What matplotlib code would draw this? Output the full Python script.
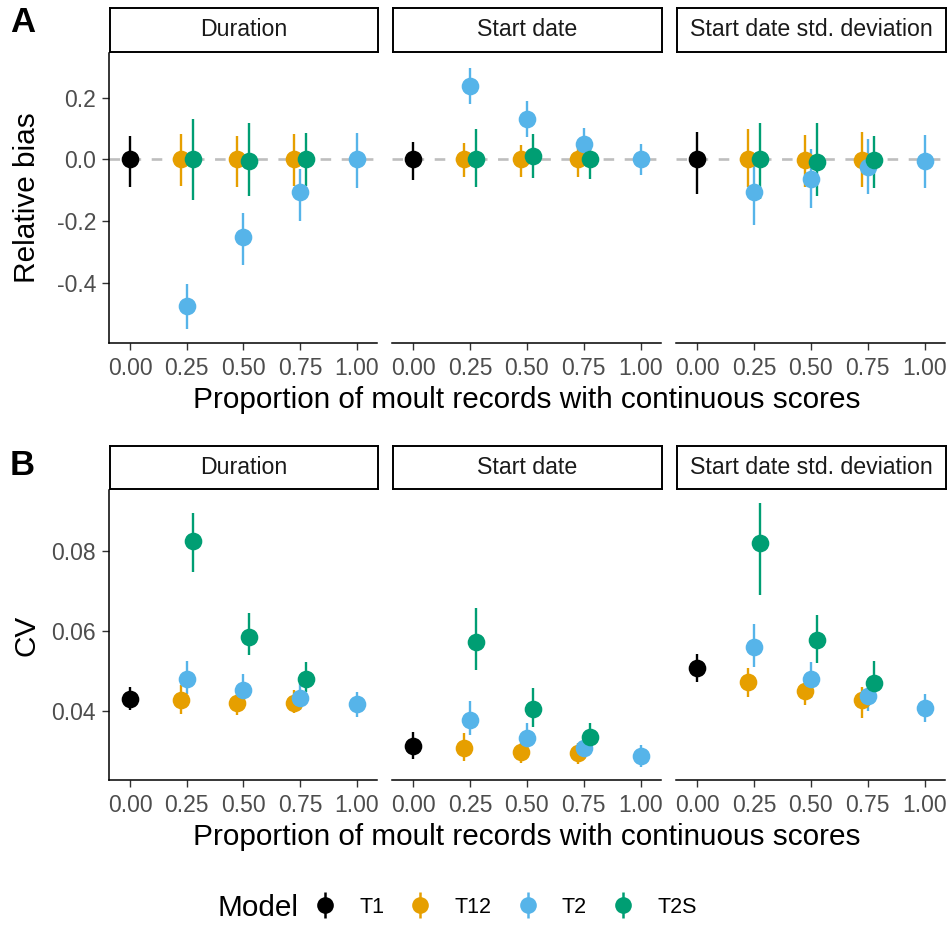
import matplotlib
matplotlib.use("Agg")
import matplotlib.pyplot as plt
from matplotlib.lines import Line2D
from matplotlib.legend_handler import HandlerTuple
import numpy as np

plt.rcParams["font.family"] = ["Liberation Sans", "DejaVu Sans"]

# ---- data -------------------------------------------------------------
facets = ["Duration", "Start date", "Start date std. deviation"]
models = ["T1", "T12", "T2", "T2S"]
colors = {"T1": "#000000", "T12": "#E69F00", "T2": "#56B4E9", "T2S": "#009E73"}
x_ticks = [0.00, 0.25, 0.50, 0.75, 1.00]
x_ticklabels = ["0.00", "0.25", "0.50", "0.75", "1.00"]

# one row per model / proportion combination
model = ["T1", "T12", "T12", "T12", "T2", "T2", "T2", "T2", "T2S", "T2S", "T2S"]
prop = [0.00, 0.25, 0.50, 0.75, 0.25, 0.50, 0.75, 1.00, 0.25, 0.50, 0.75]

# relative bias
bias_duration = [0.0, 0.0, 0.0, 0.0, -0.475, -0.252, -0.105, 0.0, 0.0, -0.005, 0.003]
bias_duration_lo = [-0.089, -0.086, -0.089, -0.086, -0.55, -0.341, -0.198, -0.091, -0.132, -0.118, -0.086]
bias_duration_hi = [0.077, 0.083, 0.077, 0.083, -0.405, -0.175, -0.030, 0.087, 0.131, 0.118, 0.086]

bias_start = [0.0, 0.0, 0.0, 0.0, 0.239, 0.131, 0.050, 0.0, 0.0, 0.010, 0.0]
bias_start_lo = [-0.068, -0.057, -0.057, -0.057, 0.180, 0.074, 0.029, -0.052, -0.089, -0.060, -0.063]
bias_start_hi = [0.056, 0.052, 0.048, 0.050, 0.298, 0.190, 0.102, 0.050, 0.099, 0.083, 0.060]

bias_sd = [0.0, 0.0, -0.003, -0.002, -0.105, -0.065, -0.025, -0.005, 0.0, -0.009, -0.003]
bias_sd_lo = [-0.111, -0.089, -0.090, -0.090, -0.213, -0.159, -0.113, -0.094, -0.127, -0.120, -0.092]
bias_sd_hi = [0.088, 0.099, 0.080, 0.088, -0.020, 0.035, 0.067, 0.078, 0.118, 0.117, 0.076]

# coefficient of variation
cv_duration = [0.0431, 0.0428, 0.0421, 0.0421, 0.0480, 0.0453, 0.0434, 0.0417, 0.0825, 0.0586, 0.0480]
cv_duration_lo = [0.0404, 0.0393, 0.0390, 0.0395, 0.0444, 0.0415, 0.0402, 0.0386, 0.0748, 0.0540, 0.0448]
cv_duration_hi = [0.0461, 0.0465, 0.0448, 0.0452, 0.0525, 0.0493, 0.0470, 0.0447, 0.0897, 0.0647, 0.0523]

cv_start = [0.0313, 0.0307, 0.0298, 0.0294, 0.0378, 0.0333, 0.0307, 0.0288, 0.0572, 0.0406, 0.0334]
cv_start_lo = [0.0280, 0.0275, 0.0269, 0.0268, 0.0340, 0.0311, 0.0280, 0.0261, 0.0503, 0.0361, 0.0303]
cv_start_hi = [0.0347, 0.0344, 0.0320, 0.0320, 0.0425, 0.0371, 0.0335, 0.0315, 0.0658, 0.0458, 0.0371]

cv_sd = [0.0509, 0.0473, 0.0450, 0.0428, 0.0561, 0.0480, 0.0438, 0.0407, 0.0821, 0.0578, 0.0471]
cv_sd_lo = [0.0473, 0.0436, 0.0415, 0.0384, 0.0511, 0.0432, 0.0401, 0.0373, 0.0690, 0.0521, 0.0444]
cv_sd_hi = [0.0543, 0.0509, 0.0478, 0.0461, 0.0618, 0.0522, 0.0475, 0.0442, 0.0921, 0.0642, 0.0526]

bias_sets = [(bias_duration, bias_duration_lo, bias_duration_hi),
             (bias_start, bias_start_lo, bias_start_hi),
             (bias_sd, bias_sd_lo, bias_sd_hi)]
cv_sets = [(cv_duration, cv_duration_lo, cv_duration_hi),
           (cv_start, cv_start_lo, cv_start_hi),
           (cv_sd, cv_sd_lo, cv_sd_hi)]

# ---- layout (pixels) ---------------------------------------------------
W, H = 948, 930
DPI = 100
col_x = [(109, 377), (392, 661), (676, 945)]
rows = [dict(top=53, bottom=343, strip=(8, 52)),
        dict(top=490, bottom=780, strip=(446, 489))]

TICK_GREY = "#4D4D4D"
DODGE = 0.08
TICK_FS = 16.5
TITLE_FS = 21.4
STRIP_FS = 16.7


def box(x0, x1, y0, y1):
    return [x0 / W, 1 - y1 / H, (x1 - x0) / W, (y1 - y0) / H]


def dodged_x():
    xs = np.array(prop, dtype=float)
    out = xs.copy()
    for p in np.unique(xs):
        idx = [i for i, v in enumerate(prop) if v == p]
        idx.sort(key=lambda i: models.index(model[i]))
        n = len(idx)
        for k, i in enumerate(idx):
            out[i] = p + (k - (n - 1) / 2) * DODGE / n
    return out


fig = plt.figure(figsize=(W / DPI, H / DPI), dpi=DPI)
fig.patch.set_facecolor("white")

xd = dodged_x()


def draw_row(r, sets, ylim, yticks, ylabels, ylab, show_zero):
    row = rows[r]
    for c, (x0, x1) in enumerate(col_x):
        ax = fig.add_axes(box(x0, x1, row["top"], row["bottom"]))
        est, lo, hi = sets[c]
        if show_zero:
            ax.axhline(0, color="#BEBEBE", lw=1.9, ls=(0, (4, 4)), zorder=1)
        # ranges first, then points, in model order
        for m in models:
            idx = [i for i in range(len(model)) if model[i] == m]
            ax.vlines(xd[idx], np.array(lo)[idx], np.array(hi)[idx],
                      color=colors[m], lw=1.7, zorder=2)
        for m in models:
            idx = [i for i in range(len(model)) if model[i] == m]
            ax.plot(xd[idx], np.array(est)[idx], "o", color=colors[m],
                    ms=12.7, mec="none", zorder=3)
        ax.set_xlim(-0.093, 1.09)
        ax.set_ylim(*ylim)
        ax.set_xticks(x_ticks)
        ax.set_xticklabels(x_ticklabels)
        for s in ["top", "right"]:
            ax.spines[s].set_visible(False)
        ax.spines["bottom"].set_linewidth(1.1)
        ax.spines["left"].set_linewidth(1.1)
        ax.tick_params(axis="both", length=4.8, width=1.0, color="#333333",
                       labelsize=TICK_FS, labelcolor=TICK_GREY)
        ax.tick_params(axis="x", pad=5.5)
        ax.tick_params(axis="y", pad=4.5)
        if c == 0:
            ax.set_yticks(yticks)
            ax.set_yticklabels(ylabels)
        else:
            ax.spines["left"].set_visible(False)
            ax.set_yticks([])
        ax.patch.set_alpha(0)

        # facet strip
        s0, s1 = row["strip"]
        sax = fig.add_axes(box(x0 + 1, x1 + 1, s0, s1))
        sax.set_xticks([])
        sax.set_yticks([])
        for sp in sax.spines.values():
            sp.set_linewidth(1.4)
            sp.set_color("black")
        sax.text(0.5, 0.5, facets[c], ha="center", va="center",
                 fontsize=STRIP_FS, color="#1A1A1A", transform=sax.transAxes)

    mid = (row["top"] + row["bottom"]) / 2
    fig.text(27 / W, 1 - mid / H, ylab, rotation=90, ha="center", va="center",
             fontsize=TITLE_FS)
    fig.text((col_x[0][0] + col_x[-1][1]) / 2 / W, 1 - (row["bottom"] + 57) / H,
             "Proportion of moult records with continuous scores",
             ha="center", va="center", fontsize=TITLE_FS)


draw_row(0, bias_sets, (-0.595, 0.345), [-0.4, -0.2, 0.0, 0.2],
         ["-0.4", "-0.2", "0.0", "0.2"], "Relative bias", True)
draw_row(1, cv_sets, (0.02275, 0.0954), [0.04, 0.06, 0.08],
         ["0.04", "0.06", "0.08"], "CV", False)

# panel tags
fig.text(10 / W, 1 - 22 / H, "A", fontsize=25, fontweight="bold",
         ha="left", va="center")
fig.text(10 / W, 1 - 465 / H, "B", fontsize=25, fontweight="bold",
         ha="left", va="center")

# legend
handles = []
for m in models:
    bar = Line2D([], [], ls="none", marker="|", ms=19, mew=1.8, color=colors[m])
    dot = Line2D([], [], ls="none", marker="o", ms=12, mec="none", color=colors[m])
    handles.append((bar, dot))
fig.text(218 / W, 1 - 908 / H, "Model", fontsize=TITLE_FS, ha="left", va="center")
fig.legend(handles, models, handler_map={tuple: HandlerTuple(ndivide=1)},
           loc="center left", bbox_to_anchor=(314 / W, 1 - 907 / H),
           ncol=4, frameon=False, fontsize=15.5, borderpad=0, borderaxespad=0,
           handlelength=1.0, handletextpad=1.1, columnspacing=1.17)

fig.savefig("out.png", dpi=DPI, facecolor="white")
